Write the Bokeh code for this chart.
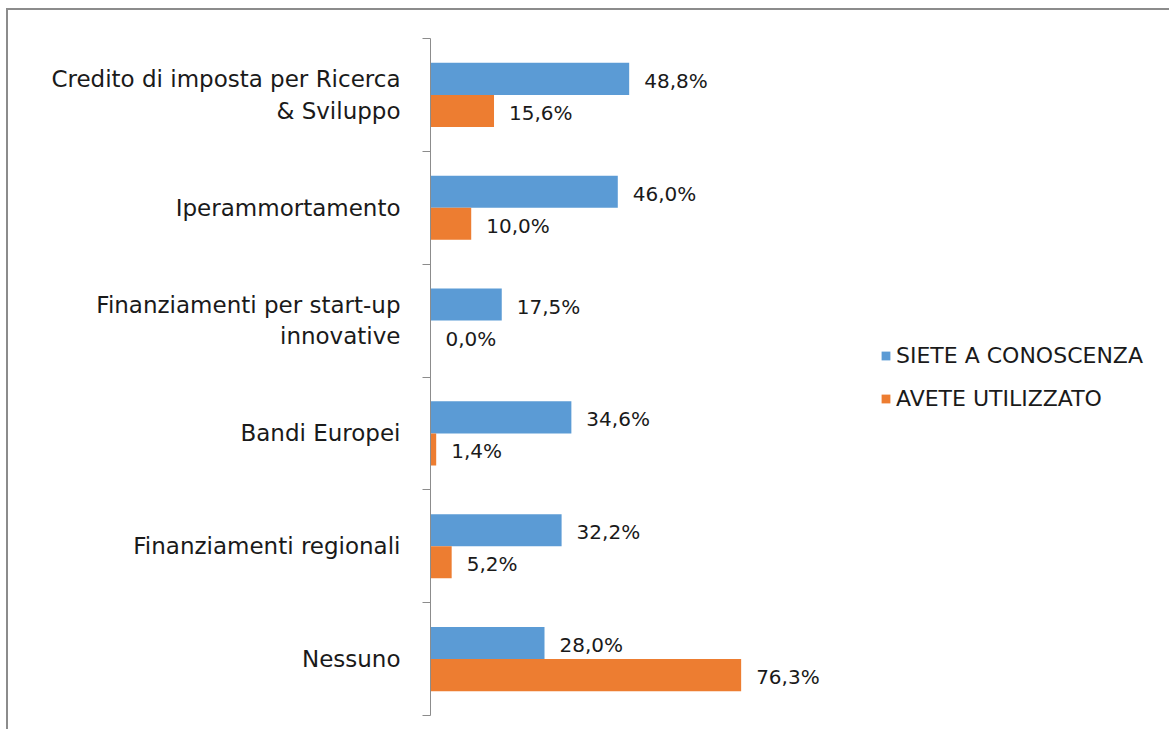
import numpy as np
from bokeh.plotting import figure
from bokeh.models import ColumnDataSource, Range1d, FixedTicker, Legend, LegendItem
from bokeh.core.properties import value
from bokeh.embed import file_html
from bokeh.resources import INLINE

categories = [
    "Credito di imposta per Ricerca\n& Sviluppo",
    "Iperammortamento",
    "Finanziamenti per start-up\ninnovative",
    "Bandi Europei",
    "Finanziamenti regionali",
    "Nessuno",
]
conoscenza = [48.8, 46.0, 17.5, 34.6, 32.2, 28.0]
utilizzato = [15.6, 10.0, 0.0, 1.4, 5.2, 76.3]
series_names = ["SIETE A CONOSCENZA", "AVETE UTILIZZATO"]

BLUE = "#5B9BD5"
ORANGE = "#ED7D31"
GRAY = "#8c8c8c"
TEXT = "#1a1a1a"
FONT = "DejaVu Sans"


def fmt(v):
    return f"{v:.1f}%".replace(".", ",")


n = len(categories)
pos = n - 1 - np.arange(n) + 0.5   # category centre (first category on top)
w = 0.284

src = ColumnDataSource(dict(
    ya=pos + w / 2,
    yb=pos - w / 2,
    a=conoscenza,
    b=utilizzato,
    a_lbl=[fmt(v) for v in conoscenza],
    b_lbl=[fmt(v) for v in utilizzato],
))

p = figure(width=1163, height=721, y_range=Range1d(0, n), x_range=Range1d(0, 182.0),
           output_backend="svg", toolbar_location=None,
           x_axis_location=None, y_axis_location="left",
           min_border_left=422, min_border_top=28, min_border_bottom=16, min_border_right=0)
p.outline_line_color = None
p.xgrid.visible = False
p.ygrid.visible = False
p.background_fill_color = "white"
p.border_fill_color = "white"
p.styles = {"border-top": f"2px solid {GRAY}", "border-left": f"2px solid {GRAY}",
            "margin-top": "8px", "margin-left": "6px"}

ax = p.yaxis[0]
ax.ticker = FixedTicker(ticks=list(pos), minor_ticks=list(range(n + 1)))
ax.major_label_overrides = {float(pos[i]): categories[i] for i in range(n)}
ax.axis_line_color = GRAY
ax.major_tick_line_color = None
ax.major_tick_out = 0
ax.major_tick_in = 0
ax.minor_tick_line_color = GRAY
ax.minor_tick_out = 8
ax.minor_tick_in = 0
ax.major_label_standoff = 22
ax.major_label_text_font = FONT
ax.major_label_text_font_size = "23px"
ax.major_label_text_color = TEXT
ax.major_label_text_line_height = 1.22

r1 = p.hbar(y="ya", left=0, right="a", height=w, source=src, fill_color=BLUE, line_color=None)
r2 = p.hbar(y="yb", left=0, right="b", height=w, source=src, fill_color=ORANGE, line_color=None)

p.text(x="a", y="ya", text="a_lbl", source=src,
       x_offset=15, y_offset=2, text_baseline="middle", text_align="left",
       text_font=value(FONT), text_font_size="20px", text_color=TEXT)
p.text(x="b", y="yb", text="b_lbl", source=src,
       x_offset=15, y_offset=2, text_baseline="middle", text_align="left",
       text_font=value(FONT), text_font_size="20px", text_color=TEXT)

legend = Legend(items=[LegendItem(label=series_names[0], renderers=[r1]),
                       LegendItem(label=series_names[1], renderers=[r2])],
                location=(450, 304), padding=0, margin=0, border_line_color=None,
                background_fill_alpha=0, glyph_width=11, glyph_height=11,
                label_standoff=5, label_height=26, spacing=17,
                label_text_font=FONT, label_text_font_size="22px", label_text_color=TEXT)
p.add_layout(legend)

open("out.html", "w").write(file_html(p, INLINE))
